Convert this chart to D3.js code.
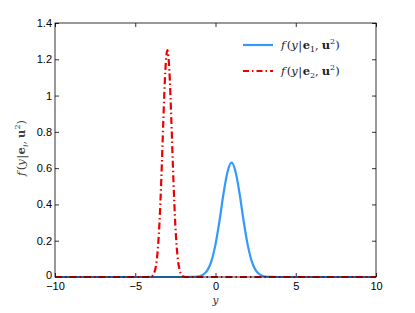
<!DOCTYPE html>
<html>
<head>
<meta charset="utf-8">
<script src="https://cdn.jsdelivr.net/npm/d3@7"></script>
<style>
body { margin: 0; background: #fff; }
svg { display: block; }
.tick text { font-family: "Liberation Sans", Arial, sans-serif; font-size: 11px; fill: #000; }
</style>
</head>
<body>
<svg id="chart" width="415" height="313"></svg>
<script>
// values
var blueX = [-10, -2, -1.5, -1, -0.75, -0.5, -0.25, 0, 0.25, 0.5, 0.75, 1, 1.25, 1.5, 1.75, 2, 2.25, 2.5, 2.75, 3, 3.5, 4, 10];
var blueY = [0, 0, 0.0003, 0.004, 0.014, 0.038, 0.089, 0.18, 0.31, 0.46, 0.58, 0.63, 0.58, 0.46, 0.31, 0.18, 0.089, 0.038, 0.014, 0.004, 0.0003, 0, 0];
var redX = [-10, -4.5, -4.25, -4, -3.875, -3.75, -3.625, -3.5, -3.375, -3.25, -3.125, -3, -2.875, -2.75, -2.625, -2.5, -2.375, -2.25, -2.125, -2, -1.75, -1.5, 10];
var redY = [0, 0, 0, 0.003, 0.013, 0.044, 0.122, 0.282, 0.541, 0.862, 1.139, 1.25, 1.139, 0.862, 0.541, 0.282, 0.122, 0.044, 0.013, 0.003, 0, 0, 0];
var xTicks = [-10, -5, 0, 5, 10];
var yTicks = [0, 0.2, 0.4, 0.6, 0.8, 1, 1.2, 1.4];

var margin = {left: 55, right: 39, top: 23, bottom: 36};
var width = 415 - margin.left - margin.right;
var height = 313 - margin.top - margin.bottom;

var svg = d3.select("#chart");
var g = svg.append("g").attr("transform", "translate(" + margin.left + "," + margin.top + ")");

var x = d3.scaleLinear().domain([-10, 10]).range([0, width]);
var y = d3.scaleLinear().domain([0, 1.4]).range([height, 0]);

function fmt(d) { return d < 0 ? "\u2212" + Math.abs(d) : String(d); }

// bottom axis
var xAxis = g.append("g").attr("transform", "translate(0," + height + ")")
    .call(d3.axisBottom(x).tickValues(xTicks).tickSize(-4).tickPadding(5).tickFormat(fmt));
xAxis.select(".domain").remove();
// top axis ticks
var xTop = g.append("g").call(d3.axisTop(x).tickValues(xTicks).tickSize(-4).tickFormat(""));
xTop.select(".domain").remove();
// left axis
var yAxis = g.append("g")
    .call(d3.axisLeft(y).tickValues(yTicks).tickSize(-4).tickPadding(3).tickFormat(function(d) { return String(d); }));
yAxis.select(".domain").remove();
yAxis.selectAll(".tick text").filter(function(d) { return d === 0; }).attr("dy", "0.1em");
var yRight = g.append("g").attr("transform", "translate(" + width + ",0)")
    .call(d3.axisRight(y).tickValues(yTicks).tickSize(-4).tickFormat(""));
yRight.select(".domain").remove();
g.selectAll(".tick line").attr("stroke", "#000").attr("stroke-width", 0.8);

var blueData = blueX.map(function(d, i) { return [d, blueY[i]]; });
var redData = redX.map(function(d, i) { return [d, redY[i]]; });

var line = d3.line()
    .x(function(d) { return x(d[0]); })
    .y(function(d) { return y(d[1]); })
    .curve(d3.curveMonotoneX);

g.append("path").datum(blueData)
    .attr("d", line)
    .attr("fill", "none")
    .attr("stroke", "#3399ff")
    .attr("stroke-width", 2.2);

g.append("path").datum(redData)
    .attr("d", line)
    .attr("fill", "none")
    .attr("stroke", "#ee0000")
    .attr("stroke-width", 2.2)
    .attr("stroke-dasharray", "7,3,1.5,3");

// box
g.append("rect").attr("width", width).attr("height", height)
    .attr("fill", "none").attr("stroke", "#000").attr("stroke-width", 0.8);

var serif = "'DejaVu Serif', 'Liberation Serif', serif";

// latex-ish label f(y|e_s, u^2)
function mathLabel(t, sub, subItalic) {
    t.append("tspan").attr("font-style", "italic").text("f");
    t.append("tspan").attr("dx", 1.5).text("(");
    t.append("tspan").attr("font-style", "italic").text("y");
    t.append("tspan").attr("dx", 0.5).text("|");
    t.append("tspan").attr("dx", 0.5).attr("font-weight", "bold").text("e");
    t.append("tspan").attr("font-size", 8).attr("dy", 3)
        .attr("font-style", subItalic ? "italic" : null).text(sub);
    t.append("tspan").attr("dy", -3).text(",");
    t.append("tspan").attr("dx", 3).attr("font-weight", "bold").text("u");
    t.append("tspan").attr("font-size", 8).attr("dy", -5).text("2");
    t.append("tspan").attr("dy", 5).text(")");
}

// legend
var legend = [
    {color: "#3399ff", dash: null, sub: "1"},
    {color: "#ee0000", dash: "6,3,1.5,3", sub: "2"}
];
legend.forEach(function(l, i) {
    var ly = 45 + i * 26;
    svg.append("line").attr("x1", 243).attr("x2", 273).attr("y1", ly).attr("y2", ly)
        .attr("stroke", l.color).attr("stroke-width", 2.2)
        .attr("stroke-dasharray", l.dash);
    var t = svg.append("text").attr("x", 281).attr("y", ly + 4)
        .attr("font-family", serif).attr("font-size", 11.5).attr("fill", "#222");
    mathLabel(t, l.sub, false);
});

// axis labels
svg.append("text").attr("x", margin.left + width / 2).attr("y", 304)
    .attr("text-anchor", "middle").attr("font-family", serif)
    .attr("font-style", "italic").attr("font-size", 10.5).attr("fill", "#333").text("y");

var yl = svg.append("text")
    .attr("transform", "translate(25," + (margin.top + height / 2 - 2) + ") rotate(-90)")
    .attr("text-anchor", "middle").attr("font-family", serif)
    .attr("font-size", 11.5).attr("fill", "#444");
mathLabel(yl, "i", true);
</script>
</body>
</html>
